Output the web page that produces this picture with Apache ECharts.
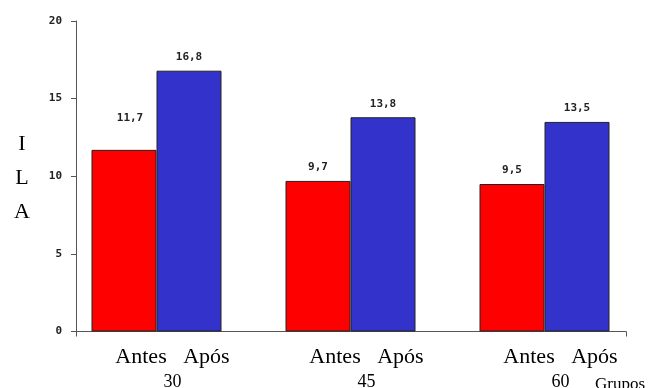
<!DOCTYPE html>
<html>
<head>
<meta charset="utf-8">
<script src="https://cdn.jsdelivr.net/npm/echarts@6/dist/echarts.min.js"></script>
<style>
  html, body { margin: 0; padding: 0; background: #fff; }
  #chart { width: 654px; height: 388px; }
</style>
</head>
<body>
<div id="chart"></div>
<script>
// Groups (days) and the ILA index before / after
const groups = ['30', '45', '60'];
const antes = [11.7, 9.7, 9.5];
const apos = [16.8, 13.8, 13.5];
const yTicks = { min: 0, max: 20, step: 5 };

const chart = echarts.init(document.getElementById('chart'));

const serif = '"Liberation Serif", "Times New Roman", serif';
const mono = '"DejaVu Sans Mono", monospace';
const comma = v => String(v).replace('.', ',');

const barLabel = {
  show: true,
  position: 'top',
  distance: 8,
  fontFamily: mono,
  fontSize: 11,
  fontWeight: 'bold',
  color: '#222',
  formatter: p => comma(p.value)
};

// the first "Antes" label sits higher above its bar
const antesData = antes.map((v, i) => i === 0
  ? { value: v, label: { offset: [6, -18] } }
  : v);

chart.setOption({
  animation: false,
  grid: [
    // bars and group labels
    { left: 59.5, width: 582, top: 21, bottom: 56.5, outerBoundsMode: 'none', containLabel: false },
    // drawn axes
    { left: 76, right: 28, top: 21, bottom: 56.5, outerBoundsMode: 'none', containLabel: false }
  ],
  xAxis: [
    {
      gridIndex: 0,
      type: 'category',
      data: groups,
      axisLine: { show: false },
      axisTick: { show: false },
      axisLabel: {
        margin: 14,
        padding: [0, 0, 0, 32],
        formatter: g => '{a|Antes   Após}\n{b|' + g + '}',
        rich: {
          a: { fontFamily: serif, fontSize: 22, lineHeight: 24, color: '#000' },
          b: { fontFamily: serif, fontSize: 18, lineHeight: 26, color: '#000' }
        }
      }
    },
    {
      gridIndex: 1,
      type: 'value',
      min: 0, max: 1, interval: 1,
      axisLine: { show: true, lineStyle: { color: '#555', width: 1 } },
      axisTick: { show: true, inside: false, length: 5, lineStyle: { color: '#555' } },
      axisLabel: { show: false },
      splitLine: { show: false }
    }
  ],
  yAxis: [
    {
      gridIndex: 0,
      type: 'value',
      min: yTicks.min, max: yTicks.max, interval: yTicks.step,
      show: false
    },
    {
      gridIndex: 1,
      type: 'value',
      min: yTicks.min, max: yTicks.max, interval: yTicks.step,
      axisLine: { show: true, lineStyle: { color: '#555', width: 1 } },
      axisTick: { show: true, inside: false, length: 5, lineStyle: { color: '#555' } },
      axisLabel: {
        margin: 14,
        fontFamily: mono,
        fontSize: 11,
        fontWeight: 'bold',
        color: '#222'
      },
      splitLine: { show: false }
    }
  ],
  series: [
    {
      name: 'Antes',
      type: 'bar',
      xAxisIndex: 0, yAxisIndex: 0,
      data: antesData,
      barWidth: 65,
      barGap: '0%',
      itemStyle: { color: '#FF0000', borderColor: '#222', borderWidth: 1 },
      label: barLabel
    },
    {
      name: 'Após',
      type: 'bar',
      xAxisIndex: 0, yAxisIndex: 0,
      data: apos,
      barWidth: 65,
      barGap: '0%',
      itemStyle: { color: '#3333CC', borderColor: '#222', borderWidth: 1 },
      label: barLabel
    }
  ],
  graphic: [
    {
      type: 'text',
      style: {
        x: 22, y: 127,
        text: 'I\nL\nA',
        fontFamily: serif,
        fontSize: 22,
        lineHeight: 34,
        align: 'center',
        verticalAlign: 'top',
        fill: '#000'
      }
    },
    {
      type: 'text',
      style: {
        x: 595, y: 376,
        text: 'Grupos',
        fontFamily: serif,
        fontSize: 17,
        verticalAlign: 'top',
        fill: '#000'
      }
    }
  ]
});
</script>
</body>
</html>
